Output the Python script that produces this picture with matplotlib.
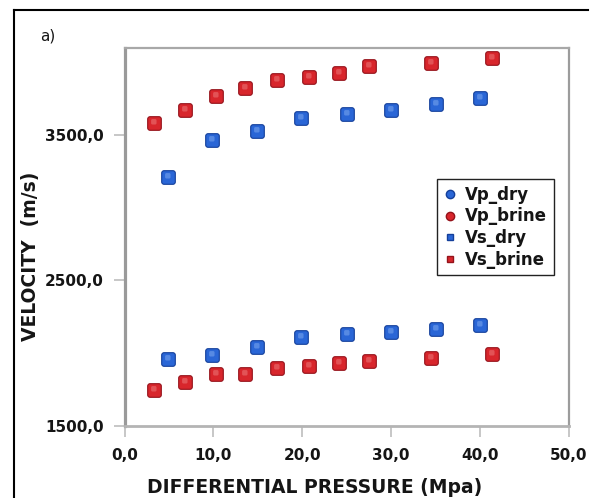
import numpy as np
import matplotlib
matplotlib.use("Agg")
import matplotlib.pyplot as plt
from matplotlib.path import Path
from matplotlib.lines import Line2D
from matplotlib.ticker import FixedLocator, FixedFormatter

# ---------------- data ----------------
pressure_brine = [3.3, 6.8, 10.3, 13.6, 17.1, 20.7, 24.1, 27.5, 34.5, 41.3]
vp_brine = [3583, 3672, 3771, 3824, 3876, 3897, 3929, 3977, 3996, 4028]
vs_brine = [1745, 1800, 1857, 1855, 1898, 1908, 1928, 1942, 1965, 1990]

pressure_dry = [4.9, 9.8, 14.9, 19.9, 25.0, 30.0, 35.0, 40.0]
vp_dry = [3208, 3463, 3525, 3617, 3647, 3672, 3711, 3757]
vs_dry = [1956, 1988, 2041, 2110, 2130, 2142, 2163, 2194]

x_ticks = [0, 10, 20, 30, 40, 50]
x_tick_labels = ["0,0", "10,0", "20,0", "30,0", "40,0", "50,0"]
y_ticks = [1500, 2500, 3500]
y_tick_labels = ["1500,0", "2500,0", "3500,0"]

series_labels = ["Vp_dry", "Vp_brine", "Vs_dry", "Vs_brine"]

# ---------------- style ----------------
BLUE = "#2a66d6"
BLUE_EDGE = "#143f9a"
BLUE_HI = "#8fb6f5"
RED = "#d8262c"
RED_EDGE = "#94121a"
RED_HI = "#f08a8a"
TXT = "#151515"


def rounded_square(r=0.3, n=8, cx=0.0, cy=0.0, s=1.0):
    """Rounded square marker path; padded with an invisible MOVETO so scaling is shared."""
    verts = []
    h = 1.0 - r
    corners = [(h, h, 0), (-h, h, 90), (-h, -h, 180), (h, -h, 270)]
    for x0, y0, a0 in corners:
        for t in np.linspace(np.radians(a0), np.radians(a0 + 90), n):
            verts.append((cx + s * (x0 + r * np.cos(t)), cy + s * (y0 + r * np.sin(t))))
    verts = [(1.0, 1.0)] + verts + [verts[0]]
    codes = [Path.MOVETO, Path.MOVETO] + [Path.LINETO] * (len(verts) - 3) + [Path.CLOSEPOLY]
    return Path(verts, codes)


base_marker = rounded_square(r=0.35)
hi_marker = rounded_square(r=0.5, cx=-0.1, cy=0.25, s=0.4)

fig = plt.figure(figsize=(5.95, 4.98), dpi=100)
ax = fig.add_axes([124.5 / 595, 1 - 425.7 / 498, (569 - 124.5) / 595, (425.7 - 47.7) / 498])

MS = 9.8


def draw(x, y, fc, ec, hc):
    ax.plot(x, y, linestyle="none", marker=base_marker, markersize=MS,
            markerfacecolor=fc, markeredgecolor=ec, markeredgewidth=0.8, zorder=3)
    ax.plot(x, y, linestyle="none", marker=hi_marker, markersize=MS,
            markerfacecolor=hc, markeredgecolor="none", alpha=0.45, zorder=4)


draw(pressure_dry, vp_dry, BLUE, BLUE_EDGE, BLUE_HI)
draw(pressure_brine, vp_brine, RED, RED_EDGE, RED_HI)
draw(pressure_dry, vs_dry, BLUE, BLUE_EDGE, BLUE_HI)
draw(pressure_brine, vs_brine, RED, RED_EDGE, RED_HI)

ax.set_xlim(0, 50)
ax.set_ylim(1500, 4100)

ax.xaxis.set_major_locator(FixedLocator(x_ticks))
ax.xaxis.set_major_formatter(FixedFormatter(x_tick_labels))
ax.yaxis.set_major_locator(FixedLocator(y_ticks))
ax.yaxis.set_major_formatter(FixedFormatter(y_tick_labels))

ax.tick_params(axis="both", direction="out", length=8, width=1.2, color="#bdbdbd",
               labelsize=11, labelcolor=TXT)
ax.tick_params(axis="x", pad=8)
ax.tick_params(axis="y", pad=7)
for lab in ax.get_xticklabels() + ax.get_yticklabels():
    lab.set_fontweight("bold")

ax.spines["left"].set_color("#9a9a9a")
ax.spines["left"].set_linewidth(2.3)
ax.spines["bottom"].set_color("#b4b4b4")
ax.spines["bottom"].set_linewidth(2.0)
ax.spines["top"].set_color("#a8a8a8")
ax.spines["top"].set_linewidth(1.6)
ax.spines["right"].set_color("#9c9c9c")
ax.spines["right"].set_linewidth(1.6)

ax.set_xlabel("DIFFERENTIAL PRESSURE (Mpa)", fontsize=13.5, fontweight="bold", color=TXT, va="center")
ax.set_ylabel("VELOCITY  (m/s)", fontsize=13.5, fontweight="bold", color=TXT, va="center")
ax.xaxis.set_label_coords((315 - 124.5) / 444.5, -(487 - 425.7) / 378)
ax.yaxis.set_label_coords(-(124.5 - 31) / 444.5, (425.7 - 256) / 378)

handles = [
    Line2D([], [], linestyle="none", marker="o", markersize=6, markerfacecolor=BLUE, markeredgecolor=BLUE_EDGE),
    Line2D([], [], linestyle="none", marker="o", markersize=6, markerfacecolor=RED, markeredgecolor=RED_EDGE),
    Line2D([], [], linestyle="none", marker="s", markersize=5, markerfacecolor=BLUE, markeredgecolor=BLUE_EDGE),
    Line2D([], [], linestyle="none", marker="s", markersize=5, markerfacecolor=RED, markeredgecolor=RED_EDGE),
]
leg = ax.legend(handles, series_labels, loc="upper left",
                bbox_to_anchor=((437 - 124.5) / 444.5, (425.7 - 179) / 378),
                borderaxespad=0, frameon=True, fancybox=False, framealpha=1,
                edgecolor="#222222", handlelength=0.8, handletextpad=0.5,
                labelspacing=0.22, borderpad=0.4,
                prop={"weight": "bold", "size": 12})
leg.get_frame().set_linewidth(1.0)
for t in leg.get_texts():
    t.set_color(TXT)

# outer frame (top and left edges) and panel tag
fig.add_artist(Line2D([14 / 595, 588 / 595], [1 - 10 / 498, 1 - 10 / 498],
                      transform=fig.transFigure, color="black", linewidth=1.5))
fig.add_artist(Line2D([14 / 595, 14 / 595], [1 - 10 / 498, 0],
                      transform=fig.transFigure, color="black", linewidth=1.5))
fig.text(48 / 595, 1 - 36 / 498, "a)", fontsize=11, color=TXT, ha="center", va="center")

fig.savefig("out.png", dpi=100)
